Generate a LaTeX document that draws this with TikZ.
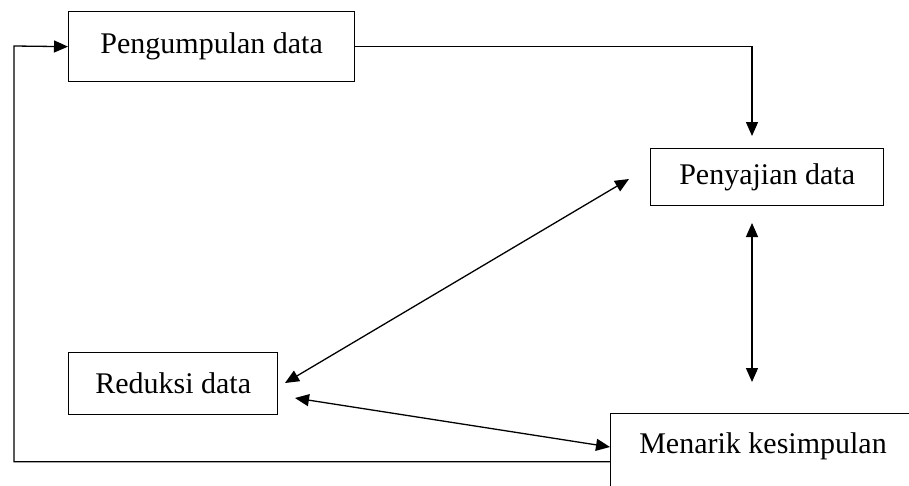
\documentclass[tikz,border=0pt]{standalone}
\usepackage{fontspec}
\setmainfont{Liberation Serif}
\usetikzlibrary{arrows.meta}
\begin{document}
\begin{tikzpicture}[x=1pt,y=-1pt,
 box/.style={draw, line width=1.3pt, inner sep=0pt, anchor=north west, font=\fontsize{30}{36}\selectfont},
 lbl/.style={font=\fontsize{30}{36}\selectfont, inner sep=0pt},
 conn/.style={line width=1.3pt, -{Triangle[length=14pt,width=12pt]}},
 dconn/.style={line width=1.3pt, {Triangle[length=14pt,width=12pt]}-{Triangle[length=14pt,width=12pt]}}]
\useasboundingbox (0,0) rectangle (909,485);
\clip (0,0) rectangle (909,485);
\node[box, minimum width=286pt, minimum height=70pt] (pd) at (68,11) {Pengumpulan data};
\node[box, minimum width=233pt, minimum height=57pt] (ps) at (650,148) {Penyajian data};
\node[box, minimum width=209pt, minimum height=62pt] (rd) at (68,352) {Reduksi data};
\node[box, minimum width=320pt, minimum height=96pt] (mkbox) at (610,413) {};
\node[lbl, anchor=base] (mk) at (763,453) {Menarik kesimpulan};
% connectors
\coordinate (t1) at (752,136);
\draw[conn] (pd.east) -| (t1);
\coordinate (lc) at (14,46);
\draw[conn] (mkbox.west) -| (lc) -- (pd.west);
\coordinate (v1) at (752,223);
\coordinate (v2) at (752,382);
\draw[dconn] (v1) -- (v2);
\coordinate (d1) at (629,179);
\coordinate (d2) at (285,383);
\draw[dconn] (d1) -- (d2);
\coordinate (r1) at (295,398);
\coordinate (r2) at (610,447);
\draw[dconn] (r1) -- (r2);
\end{tikzpicture}
\end{document}
